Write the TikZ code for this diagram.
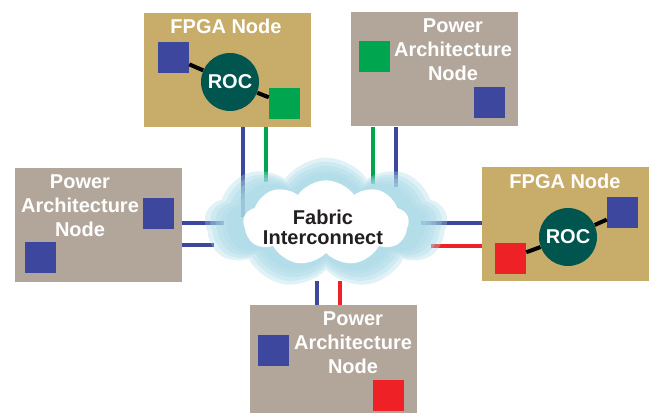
\documentclass[tikz,border=0pt]{standalone}
\usepackage{fontspec}
\setmainfont{Liberation Sans}
\usepackage{tikz}
\usetikzlibrary{shapes.geometric, shapes.symbols}
\definecolor{fpgatan}{HTML}{C8AC6A}
\definecolor{pwrgray}{HTML}{B2A69A}
\definecolor{portblue}{HTML}{3D479D}
\definecolor{portgreen}{HTML}{00A54F}
\definecolor{portred}{HTML}{EE2127}
\definecolor{rocteal}{HTML}{00554F}
\definecolor{cloudblue}{HTML}{A9D9E6}
\definecolor{cloudtext}{HTML}{231F20}
\tikzstyle{boxnode} = [rectangle, minimum width=125.25pt, minimum height=85.5pt, inner sep=0pt]
\tikzstyle{port} = [rectangle, minimum size=23.25pt, inner sep=0pt]
\tikzstyle{link} = [line width=3.2pt]

\begin{document}
\begin{tikzpicture}[x=0.75pt, y=-0.75pt,
                    font=\bfseries\fontsize{15}{18}\selectfont
                   ]

\tikzset{title/.style = {text=white, align=center, inner sep=0pt},
         roc/.style = {circle, fill=rocteal, text=white, minimum size=43.5pt, inner sep=0pt},
         haze/.style = {cloud, cloud puffs=9, cloud puff arc=110, cloud ignores aspect, fill=cloudblue, draw=none, inner sep=0pt}}

\useasboundingbox (0,0) rectangle (652,413);

% nodes
\node[boxnode, fill=fpgatan] (fpgaTop) at (227.5,70) {};
\node[boxnode, fill=pwrgray] (pwrTop) at (434,69.5) {};
\node[boxnode, fill=pwrgray] (pwrLeft) at (98.5,225) {};
\node[boxnode, fill=fpgatan] (fpgaRight) at (565.5,224) {};
\node[boxnode, fill=pwrgray, minimum height=81pt] (pwrBot) at (333.5,359) {};

\node[title] (fpgaTopLbl) at (226,26) {FPGA Node};
\node[title] (pwrTopLbl) at (453,50) {Power\\Architecture\\Node};
\node[title] (pwrLeftLbl) at (80,206) {Power\\Architecture\\Node};
\node[title] (fpgaRightLbl) at (565,181.5) {FPGA Node};
\node[title] (pwrBotLbl) at (353,343) {Power\\Architecture\\Node};

% ports and ROC
\node[port, fill=portblue] (fpgaTopA) at (173.5,57.5) {};
\node[port, fill=portgreen] (fpgaTopB) at (284.5,103.5) {};
\node[roc] (rocTop) at (230,82) {ROC};
\draw[line width=3pt] (fpgaTopA) -- (rocTop) -- (fpgaTopB);

\node[port, fill=portblue] (fpgaRightA) at (622.5,212.5) {};
\node[port, fill=portred] (fpgaRightB) at (510.5,258) {};
\node[roc] (rocRight) at (568,237) {ROC};
\draw[line width=3pt] (fpgaRightA) -- (rocRight) -- (fpgaRightB);

\node[port, fill=portgreen] (pwrTopA) at (374.5,57) {};
\node[port, fill=portblue] (pwrTopB) at (489.5,102.5) {};
\node[port, fill=portblue] (pwrLeftA) at (158.5,213.5) {};
\node[port, fill=portblue] (pwrLeftB) at (40.5,257.5) {};
\node[port, fill=portblue] (pwrBotA) at (273.5,350.5) {};
\node[port, fill=portred] (pwrBotB) at (388.5,395.5) {};

% links into the fabric
\coordinate (tlBlue) at (243,217);
\coordinate (tlGreen) at (266,182);
\coordinate (trGreen) at (373,184);
\coordinate (trBlue) at (396,187);
\coordinate (lUp) at (224,223);
\coordinate (lLow) at (214,245);
\coordinate (rUp) at (421,223);
\coordinate (rLow) at (431,246);
\coordinate (bBlue) at (317,281);
\coordinate (bRed) at (340,281);

\draw[link, portblue] (fpgaTop.south -| tlBlue) -- (tlBlue);
\draw[link, portgreen] (fpgaTop.south -| tlGreen) -- (tlGreen);
\draw[link, portgreen] (pwrTop.south -| trGreen) -- (trGreen);
\draw[link, portblue] (pwrTop.south -| trBlue) -- (trBlue);
\draw[link, portblue] (pwrLeft.east |- lUp) -- (lUp);
\draw[link, portblue] (pwrLeft.east |- lLow) -- (lLow);
\draw[link, portblue] (fpgaRight.west |- rUp) -- (rUp);
\draw[link, portred] (fpgaRight.west |- rLow) -- (rLow);
\draw[link, portblue] (pwrBot.north -| bBlue) -- (bBlue);
\draw[link, portred] (pwrBot.north -| bRed) -- (bRed);

% cloud
\foreach \w/\h [count=\i] in {182pt/98pt, 174pt/92pt, 166pt/86pt, 158pt/80pt, 150pt/75pt}
    \node[haze, fill opacity=0.35, minimum width=\w, minimum height=\h] (haze\i) at (326,223) {};
\node[haze, fill=white, minimum width=124pt, minimum height=64pt] (fabric) at (326,223) {};
\node[text=cloudtext, align=center, inner sep=0pt, font=\bfseries\fontsize{15}{15}\selectfont] (fabricLbl) at (323,227) {Fabric\\Interconnect};

\end{tikzpicture}
\end{document}
